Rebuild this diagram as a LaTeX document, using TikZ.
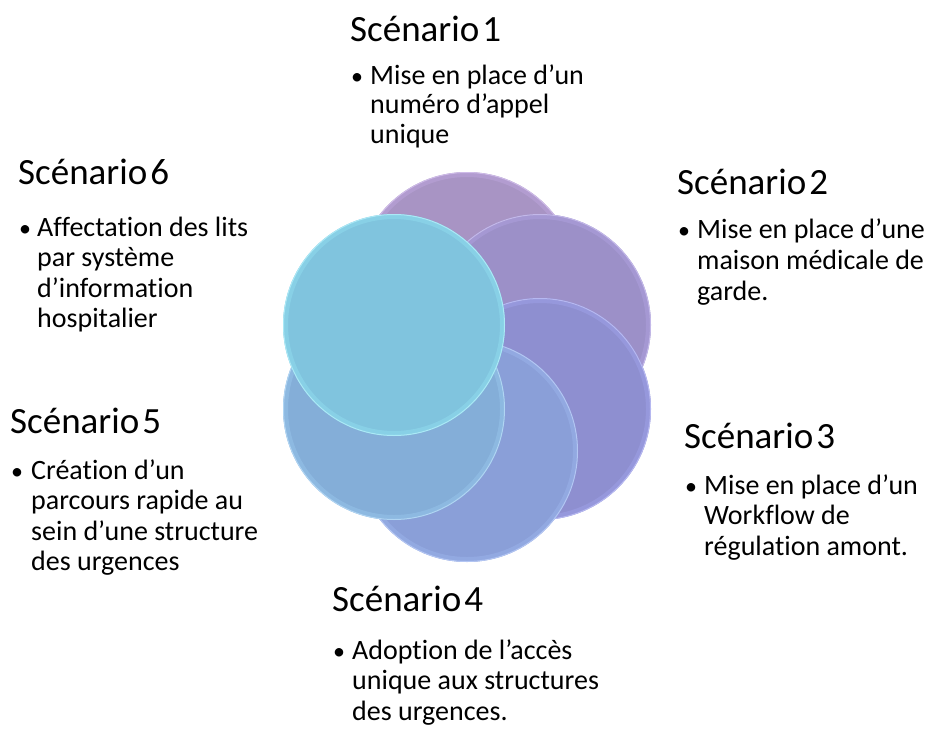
\documentclass[tikz,border=0pt]{standalone}
\usepackage{fontspec}
\setmainfont{Carlito}[Ligatures={NoCommon}]
\definecolor{cA}{HTML}{A894C4}
\definecolor{cB}{HTML}{9C90C8}
\definecolor{cC}{HTML}{8E8FD0}
\definecolor{cD}{HTML}{8A9FD8}
\definecolor{cE}{HTML}{84AED8}
\definecolor{cF}{HTML}{80C4DE}
\definecolor{rA}{HTML}{C2AAE2}
\definecolor{rB}{HTML}{B4A6E4}
\definecolor{rC}{HTML}{A4A6EE}
\definecolor{rD}{HTML}{A0B8F0}
\definecolor{rE}{HTML}{9CCAF0}
\definecolor{rF}{HTML}{96E4F4}
\tikzset{
  x=1pt, y=-1pt,
  disc/.style={circle, minimum size=222pt, inner sep=0pt},
  ttl/.style={anchor=base west, inner sep=0pt, font=\fontsize{37}{44}\selectfont},
  txt/.style={anchor=base west, inner sep=0pt, font=\fontsize{28}{31}\selectfont},
  bul/.style={anchor=base west, inner sep=0pt, font=\fontsize{24}{30}\selectfont},
}
\newcommand{\mydisc}[4]{%
  \node[disc, fill=#2] (#1) at #4 {};
  \draw[#3, line width=4pt, opacity=0.4] #4 circle (108pt);
  \draw[#3!80!white, line width=1pt] #4 circle (110.5pt);
}
\newcommand{\scen}[1]{Scénario\hspace{0.08em}#1}
\begin{document}
\begin{tikzpicture}
\useasboundingbox (0,0) rectangle (928,728);
% discs
\mydisc{k1}{cA}{rA}{(467,283)}
\mydisc{k2}{cB}{rB}{(540,325)}
\mydisc{k3}{cC}{rC}{(540,409)}
\mydisc{k4}{cD}{rD}{(467,451)}
\mydisc{k5}{cE}{rE}{(394,409)}
\mydisc{k6}{cF}{rF}{(394,325)}
% Scenario 1
\node[ttl] (t1) at (350,41) {\scen{1}};
\node[bul] (b1) at (351,84) {•};
\node[txt] (l1a) at (370,84) {Mise en place d’un};
\node[txt] (l1b) at (370,113.5) {numéro d’appel};
\node[txt] (l1c) at (370,143) {unique};
% Scenario 2
\node[ttl] (t2) at (677,194) {\scen{2}};
\node[bul] (b2) at (678,238) {•};
\node[txt] (l2a) at (697,238) {Mise en place d’une};
\node[txt] (l2b) at (697,269) {maison médicale de};
\node[txt] (l2c) at (697,300) {garde.};
% Scenario 3
\node[ttl] (t3) at (684,448) {\scen{3}};
\node[bul] (b3) at (685,494) {•};
\node[txt] (l3a) at (704,494) {Mise en place d’un};
\node[txt] (l3b) at (704,524.5) {Workflow de};
\node[txt] (l3c) at (704,555) {régulation amont.};
% Scenario 4
\node[ttl] (t4) at (332,611) {\scen{4}};
\node[bul] (b4) at (333,659) {•};
\node[txt] (l4a) at (352,659) {Adoption de l’accès};
\node[txt] (l4b) at (352,689.5) {unique aux structures};
\node[txt] (l4c) at (352,720) {des urgences.};
% Scenario 5
\node[ttl] (t5) at (10,433) {\scen{5}};
\node[bul] (b5) at (11,479) {•};
\node[txt] (l5a) at (31,479) {Création d’un};
\node[txt] (l5b) at (31,509.5) {parcours rapide au};
\node[txt] (l5c) at (31,540) {sein d’une structure};
\node[txt] (l5d) at (31,570) {des urgences};
% Scenario 6
\node[ttl] (t6) at (18,184) {\scen{6}};
\node[bul] (b6) at (19,236) {•};
\node[txt] (l6a) at (37,236) {Affectation des lits};
\node[txt] (l6b) at (37,266.5) {par système};
\node[txt] (l6c) at (37,297) {d’information};
\node[txt] (l6d) at (37,327) {hospitalier};
\end{tikzpicture}
\end{document}
